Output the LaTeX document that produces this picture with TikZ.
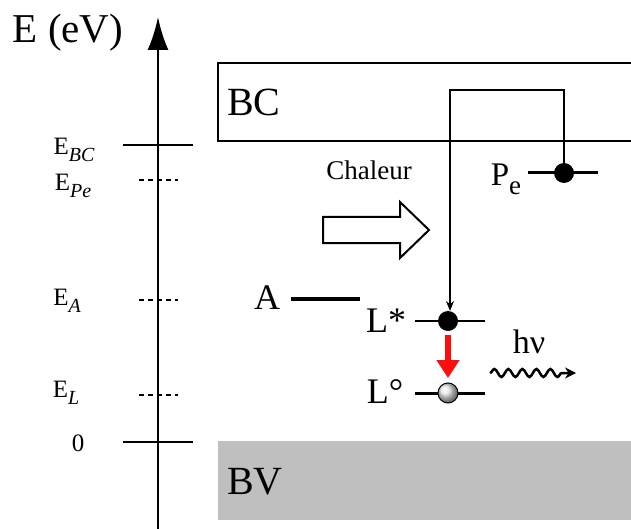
\documentclass[tikz,border=0pt]{standalone}
\usepackage{fontspec}
\setmainfont{Liberation Serif}
\usetikzlibrary{arrows.meta,decorations.pathmorphing}
\definecolor{bvgray}{rgb}{0.75,0.75,0.75}
\definecolor{redarrow}{rgb}{1,0.05,0.05}
\newcommand{\fs}[1]{\fontsize{#1}{#1}\selectfont}
\newcommand{\lowsub}[2]{\raisebox{-0.28em}{\fontsize{#1}{#1}\selectfont #2}}

\begin{document}
\begin{tikzpicture}[line cap=butt,line join=miter,x=1pt,y=-1pt,
    lvl/.style={line width=3pt},
    tick/.style={line width=2.5pt},
    dtick/.style={line width=2pt,dash pattern=on 5pt off 4pt},
    elab/.style={font=\fs{25}},
    dot/.style={circle,fill=black,minimum size=20pt,inner sep=0pt},
    txt/.style={inner sep=0pt}]
    \useasboundingbox (0,0) rectangle (631,529);

    % bands
    \fill[bvgray] (218,441) rectangle (640,520);
    \draw[line width=2pt] (218,63) rectangle (650,141);
    \node[txt,anchor=west,font=\fs{40}] (bc) at (227,102) {BC};
    \node[txt,anchor=west,font=\fs{40}] (bv) at (227,482) {BV};

    % energy axis
    \coordinate (axbot) at (158,540);
    \coordinate (axtop) at (158,17);
    \draw[line width=2.5pt,-{Latex[length=33pt,width=21pt]}] (axbot) -- (axtop);
    \node[txt,font=\fs{41}] (eaxis) at (68,33) {E (eV)};

    \draw[tick] (123,145) -- (193,145);
    \draw[tick] (123,442) -- (193,442);
    \draw[dtick] (139,180) -- (178,180);
    \draw[dtick] (139,300) -- (178,300);
    \draw[dtick] (139,395) -- (178,395);

    \node[txt,elab] (ebc) at (74,150) {E\lowsub{20}{\itshape BC}};
    \node[txt,elab] (epe) at (73,186) {E\lowsub{20}{\itshape Pe}};
    \node[txt,elab] (ea) at (67,301) {E\lowsub{20}{\itshape A}};
    \node[txt,elab] (el) at (66,393) {E\lowsub{20}{\itshape L}};
    \node[txt,elab] (zero) at (78,443) {0};

    % heat
    \node[txt,font=\fs{27}] (chal) at (369,170) {Chaleur};
    \draw[line width=2pt] (323,217) -- (400,217) -- (400,202) -- (429,230)
        -- (400,258) -- (400,243) -- (323,243) -- cycle;

    % levels
    \draw[lvl,line width=3.5pt] (291,299) -- (360,299);
    \node[txt,font=\fs{36}] (alab) at (267,298) {A};

    \draw[lvl] (528,173) -- (598,173);
    \node[dot] (pedot) at (564,173) {};
    \node[txt,font=\fs{33}] (pelab) at (506,179) {P\lowsub{27}{e}};

    \draw[lvl,line width=2pt] (415,321) -- (485,321);
    \node[dot] (lsdot) at (448,321) {};
    \node[txt,font=\fs{36}] (lslab) at (386,321) {L*};

    \draw[lvl] (415,393) -- (485,393);
    \node[circle,draw=black,line width=1pt,shading=ball,ball color=gray!18,minimum size=20pt,inner sep=0pt] (lodot) at (448,393) {};
    \node[txt,font=\fs{36}] (lolab) at (385,392) {L°};

    % transfer
    \coordinate (up1) at (564,90);
    \coordinate (up2) at (450,90);
    \coordinate (down) at (450,311);
    \draw[line width=1.5pt,-{Stealth[length=10pt,width=8pt]}] (pedot) -- (up1) -- (up2) -- (down);

    % emission
    \draw[redarrow,line width=6.5pt,-{Triangle[length=18pt,width=22pt]}] (lsdot.south) ++(0,4) -- (448,378);
    \node[txt,font=\fs{34}] (hnu) at (529,342) {hν};
    \coordinate (w1) at (490,373);
    \coordinate (w2) at (576,373);
    \draw[line width=2.5pt,-{Stealth[length=11pt,width=11pt]},decorate,
        decoration={snake,amplitude=4pt,segment length=14pt,post length=8pt}] (w1) -- (w2);
\end{tikzpicture}
\end{document}
